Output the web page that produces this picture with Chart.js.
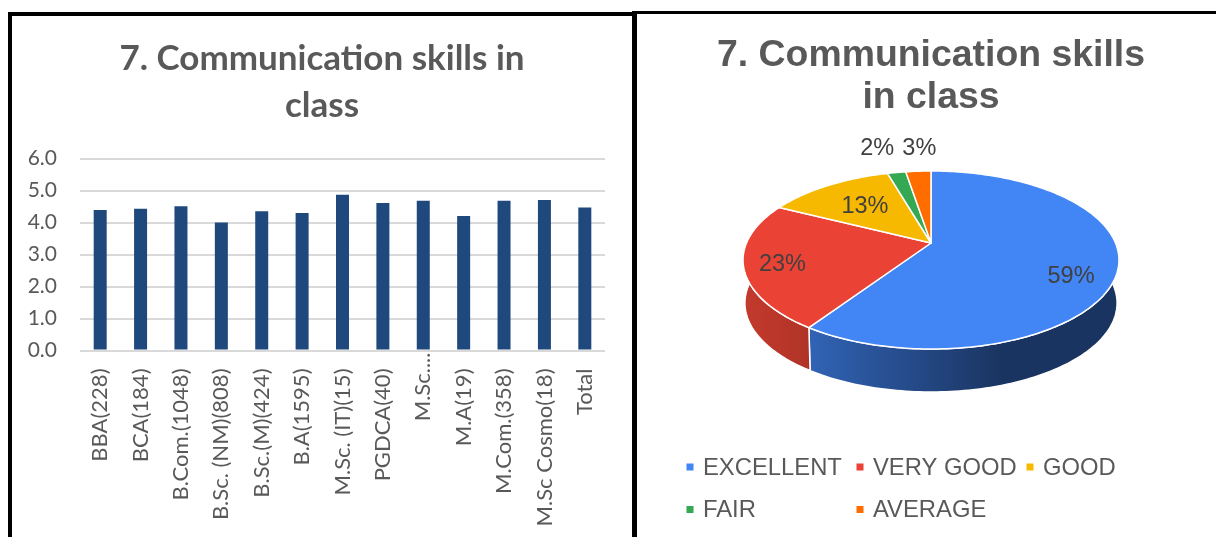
<!DOCTYPE html>
<html>
<head>
<meta charset="utf-8">
<style>
html,body{margin:0;padding:0;background:#fff;width:1216px;height:537px;overflow:hidden}
canvas{position:absolute;top:0}
.b{position:absolute;background:#000}
</style>
<script src="https://cdn.jsdelivr.net/npm/chart.js@4/dist/chart.umd.js"></script>
</head>
<body>
<canvas id="bar" width="622" height="537" style="left:11px"></canvas>
<canvas id="pie" width="570" height="537" style="left:646px"></canvas>
<div class="b" style="left:8px;top:12px;width:625px;height:4px"></div>
<div class="b" style="left:8px;top:12px;width:4px;height:525px"></div>
<div class="b" style="left:632px;top:11px;width:5px;height:526px"></div>
<div class="b" style="left:632px;top:11px;width:584px;height:3px"></div>
<script>
const titleBar = ['7. Communication skills in', 'class'];
const titlePie = ['7. Communication skills', 'in class'];
const courses = ['BBA(228)','BCA(184)','B.Com.(1048)','B.Sc. (NM)(808)','B.Sc.(M)(424)','B.A(1595)','M.Sc. (IT)(15)','PGDCA(40)','M.Sc....','M.A(19)','M.Com.(358)','M.Sc Cosmo(18)','Total'];
const scores = [4.39,4.43,4.51,4.0,4.35,4.30,4.87,4.61,4.68,4.20,4.68,4.70,4.47];
const yTicks = [0,1,2,3,4,5,6];
const ratings = ['EXCELLENT','VERY GOOD','GOOD','FAIR','AVERAGE'];
const shares = [59.4,23.0,13.1,1.9,2.6];
const ratingColors = ['#4285F4','#EA4335','#F7B900','#34A853','#FF6D01'];

const noAnim = {animation:false, responsive:false, events:[]};

const raiseTruncatedLabel = {
  id:'raiseTruncatedLabel',
  beforeDraw(chart){
    const s = chart.scales.x, items = s.getLabelItems();
    const it = items[8];
    if (it && !it._moved){ it.options.translation[1] -= 16; it._moved = true; }
  }
};

new Chart(document.getElementById('bar'), {
  type:'bar',
  data:{labels:courses, datasets:[{data:scores, backgroundColor:'#1F497D', barPercentage:0.322, categoryPercentage:1}]},
  options:{...noAnim,
    plugins:{
      legend:{display:false}, tooltip:{enabled:false},
      title:{display:true, text:titleBar, color:'#595959', padding:{top:35,bottom:29.5},
             font:{family:'Lato',size:35,weight:'bold',lineHeight:1.343}}
    },
    scales:{
      x:{ afterFit(s){s.height=186.5;},
          grid:{display:false,drawTicks:false}, border:{display:false},
          ticks:{autoSkip:false,minRotation:90,maxRotation:90,padding:18,color:'#595959',font:{family:'Lato',size:22}}},
      y:{ min:0,max:6, afterFit(s){s.width=69;},
          afterBuildTicks(s){s.ticks=yTicks.map(v=>({value:v}));},
          grid:{color:'#D9D9D9',lineWidth:2,drawTicks:false}, border:{display:false},
          ticks:{padding:23,color:'#595959',font:{family:'Lato',size:21},callback:v=>v.toFixed(1)}},
      margin:{ type:'linear', position:'right', min:0, max:6, afterFit(s){s.width=28;},
          grid:{display:false,drawTicks:false}, border:{display:false}, ticks:{display:false}}
    }
  },
  plugins:[raiseTruncatedLabel]
});

/* perspective disc used for the tilted pie */
const OX = 646;
const disc = {cx:931-OX, cy:260, a:184.5, b:89, c:17, k:0.191, depth:43, shrink:0.99};
function project(angle, r){
  const u = r*Math.cos(angle), v = -r*Math.sin(angle);
  const d = 1 + disc.k*v;
  return {x: disc.cx + disc.a*u/d, y: disc.cy - (disc.b*v + disc.c)/d};
}
function arcPoints(arc){
  const n = Math.max(4, Math.ceil((arc.endAngle-arc.startAngle)/0.02)), pts=[];
  for(let i=0;i<=n;i++) pts.push(project(arc.startAngle+(arc.endAngle-arc.startAngle)*i/n,1));
  return pts;
}
function drawFace(ctx){
  const pts = arcPoints(this);
  const tip = project(0,0);
  ctx.save();
  ctx.beginPath();
  ctx.moveTo(tip.x,tip.y);
  pts.forEach(p=>ctx.lineTo(p.x,p.y));
  ctx.closePath();
  ctx.fillStyle = this.options.backgroundColor;
  ctx.fill();
  ctx.strokeStyle = '#fff'; ctx.lineWidth = 1.5; ctx.lineJoin='round';
  ctx.stroke();
  ctx.restore();
}
function wallFill(ctx,i){
  if(i===0){
    const g = ctx.createLinearGradient(809-OX,0,1003-OX,0);
    g.addColorStop(0,'#3163B5'); g.addColorStop(1,'#1A3461');
    return g;
  }
  if(i===1){
    const g = ctx.createLinearGradient(744-OX,0,809-OX,0);
    g.addColorStop(0,'#C33A2D'); g.addColorStop(1,'#B03327');
    return g;
  }
  return '#888';
}
const labelRadius = [0.76,0.8,0.6,1.3,1.3];
const labelNudgeX = [0,0,-1,-11,4];
const labelNudgeY = [14,3.5,0,-7,-5];
const legendX = [690,860,1030,690,860];
const legendY = [467,467,467,509.5,509.5];

const tiltedPie = {
  id:'tiltedPie',
  afterUpdate(chart){
    chart.getDatasetMeta(0).data.forEach(a=>{a.draw = drawFace;});
  },
  beforeDatasetsDraw(chart){
    const ctx = chart.ctx;
    chart.getDatasetMeta(0).data.forEach((arc,i)=>{
      const top = arcPoints(arc);
      ctx.save();
      ctx.beginPath();
      top.forEach((p,j)=> j?ctx.lineTo(p.x,p.y):ctx.moveTo(p.x,p.y));
      top.slice().reverse().forEach(p=>ctx.lineTo(disc.cx+(p.x-disc.cx)*disc.shrink, p.y+disc.depth));
      ctx.closePath();
      ctx.fillStyle = wallFill(ctx,i);
      ctx.fill();
      ctx.strokeStyle='#fff'; ctx.lineWidth=1.5;
      ctx.stroke();
      ctx.restore();
    });
  },
  afterDatasetsDraw(chart){
    const ctx = chart.ctx, data = chart.data.datasets[0].data;
    const sum = data.reduce((a,b)=>a+b,0);
    ctx.save();
    ctx.font = '23.5px "Liberation Sans"';
    ctx.fillStyle = '#404040';
    ctx.textAlign='center'; ctx.textBaseline='middle';
    chart.getDatasetMeta(0).data.forEach((arc,i)=>{
      const p = project((arc.startAngle+arc.endAngle)/2, labelRadius[i]);
      ctx.fillText(Math.round(data[i]/sum*100)+'%', p.x+labelNudgeX[i], p.y+labelNudgeY[i]);
    });
    ctx.font = '23.8px "Liberation Sans"';
    ctx.textAlign='left';
    chart.data.labels.forEach((t,i)=>{
      ctx.fillStyle = ratingColors[i];
      ctx.fillRect(legendX[i]-OX-3.5, legendY[i]-3.5, 7, 7);
      ctx.fillStyle = '#595959';
      ctx.fillText(t, legendX[i]-OX+13, legendY[i]+1);
    });
    ctx.restore();
  }
};

new Chart(document.getElementById('pie'), {
  type:'pie',
  data:{labels:ratings, datasets:[{data:shares, backgroundColor:ratingColors, borderWidth:0}]},
  options:{...noAnim,
    plugins:{
      legend:{display:false}, tooltip:{enabled:false},
      title:{display:true, text:titlePie, color:'#595959', padding:{top:35,bottom:10},
             font:{family:'"Liberation Sans"',size:37.4,weight:'bold',lineHeight:1.123}}
    }
  },
  plugins:[tiltedPie]
});
</script>
</body>
</html>
